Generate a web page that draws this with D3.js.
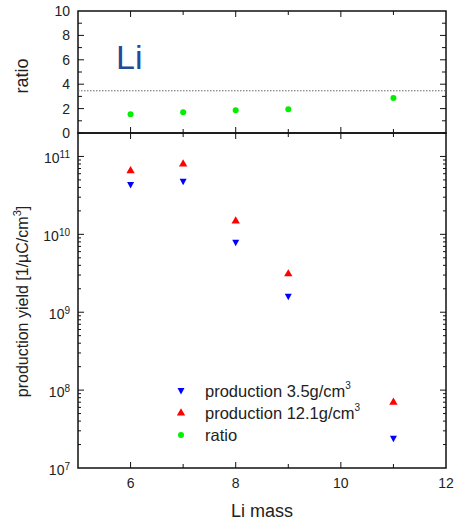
<!DOCTYPE html>
<html>
  <meta charset="utf-8" />
  <head>
    <script src="https://d3js.org/d3.v7.min.js"></script>
    <style>
      body { margin: 0; background: #fff; }
      text { font-family: "Liberation Sans", Arial, sans-serif; fill: #222; }
    </style>
  </head>
  <body>
    <svg id="chart" width="456" height="525"></svg>
    <script>
      // Li isotope masses
      const masses = [6, 7, 8, 9, 11];
      // production yield per density
      const yield35 = [4.3e10, 4.75e10, 7.8e9, 1.58e9, 2.38e7];
      const yield121 = [6.55e10, 8.0e10, 1.48e10, 3.1e9, 6.97e7];
      const ratio = [1.53, 1.70, 1.86, 1.94, 2.87];
      const ratioLine = 3.46;
      const xTicks = [6, 8, 10, 12];
      const ratioTicks = [0, 2, 4, 6, 8, 10];
      const logTicks = [7, 8, 9, 10, 11];
      const legendLabels = ["production 3.5g/cm", "production 12.1g/cm", "ratio"];
      const legendSup = ["3", "3", ""];

      const left = 78, right = 446;
      const topY = 11, midY = 133, botY = 468;
      const green = "#00f000";

      const svg = d3.select("#chart");

      const x = d3.scaleLinear().domain([5, 12]).range([left, right]);
      const yr = d3.scaleLinear().domain([0, 10]).range([midY, topY]);
      const yl = d3.scaleLog().domain([1e7, 2e11]).range([botY, midY]);

      // frames
      svg.append("rect").attr("x", left).attr("y", topY)
        .attr("width", right - left).attr("height", midY - topY)
        .attr("fill", "none").attr("stroke", "#111").attr("stroke-width", 1.5);
      svg.append("rect").attr("x", left).attr("y", midY)
        .attr("width", right - left).attr("height", botY - midY)
        .attr("fill", "none").attr("stroke", "#111").attr("stroke-width", 1.5);

      function tickLine(x1, y1, x2, y2) {
        svg.append("line").attr("x1", x1).attr("y1", y1).attr("x2", x2).attr("y2", y2)
          .attr("stroke", "#111").attr("stroke-width", 1);
      }

      // x ticks (inward) on all horizontal edges
      d3.range(6, 12).forEach(v => {
        const len = v % 2 === 0 ? 6 : 4;
        tickLine(x(v), topY, x(v), topY + len);
        tickLine(x(v), midY, x(v), midY - len);
        tickLine(x(v), midY, x(v), midY + len);
        tickLine(x(v), botY, x(v), botY - len);
      });

      // ratio y ticks
      d3.range(1, 10).forEach(v => {
        const len = v % 2 === 0 ? 6 : 4;
        tickLine(left, yr(v), left + len, yr(v));
        tickLine(right, yr(v), right - len, yr(v));
      });

      // log y ticks
      logTicks.forEach(p => {
        if (p > 7) {
          tickLine(left, yl(Math.pow(10, p)), left + 6, yl(Math.pow(10, p)));
          tickLine(right, yl(Math.pow(10, p)), right - 6, yl(Math.pow(10, p)));
        }
        d3.range(2, 10).forEach(m => {
          const v = m * Math.pow(10, p);
          if (v > 2e11) return;
          tickLine(left, yl(v), left + 3, yl(v));
          tickLine(right, yl(v), right - 3, yl(v));
        });
      });

      // tick labels
      xTicks.forEach(v => {
        svg.append("text").attr("x", x(v)).attr("y", botY + 20)
          .attr("text-anchor", "middle").attr("font-size", 14).text(v);
      });
      ratioTicks.forEach(v => {
        svg.append("text").attr("x", left - 8).attr("y", yr(v) + 5)
          .attr("text-anchor", "end").attr("font-size", 14).text(v);
      });
      logTicks.forEach(p => {
        const t = svg.append("text").attr("x", left - 8).attr("y", yl(Math.pow(10, p)) + 7)
          .attr("text-anchor", "end").attr("font-size", 14);
        t.append("tspan").text("10");
        t.append("tspan").attr("font-size", 10).attr("dy", -5).text(p);
      });

      // axis titles
      svg.append("text").attr("x", x(8.5)).attr("y", 517)
        .attr("text-anchor", "middle").attr("font-size", 18).text("Li mass");
      svg.append("text").attr("transform", "translate(28, 76) rotate(-90)")
        .attr("text-anchor", "middle").attr("font-size", 18).text("ratio");
      const yt = svg.append("text").attr("transform", `translate(28, ${(midY + botY) / 2 + 1}) rotate(-90)`)
        .attr("text-anchor", "middle").attr("font-size", 16);
      yt.append("tspan").text("production yield [1/\u00b5C/cm");
      yt.append("tspan").attr("font-size", 11).attr("dy", -7).text("3");
      yt.append("tspan").attr("dy", 7).text("]");

      // Li label
      svg.append("text").attr("x", 116).attr("y", 69).attr("font-size", 34)
        .style("fill", "#23499c").text("Li");

      // dotted reference line
      svg.append("line").attr("x1", left).attr("x2", right)
        .attr("y1", yr(ratioLine)).attr("y2", yr(ratioLine))
        .attr("stroke", "#666").attr("stroke-width", 1).attr("stroke-dasharray", "1.5,1.5");

      const triUp = d3.symbol().type(d3.symbolTriangle).size(30);
      const triDown = "M-3.5,-3 L3.5,-3 L0,3.5 Z";

      // ratio points
      svg.selectAll(".ratio").data(masses).join("circle")
        .attr("cx", d => x(d)).attr("cy", (d, i) => yr(ratio[i]))
        .attr("r", 3).attr("fill", green);

      svg.selectAll(".y35").data(masses).join("path")
        .attr("transform", (d, i) => `translate(${x(d)},${yl(yield35[i])})`)
        .attr("d", triDown).attr("fill", "#0000ff");
      svg.selectAll(".y121").data(masses).join("path")
        .attr("transform", (d, i) => `translate(${x(d)},${yl(yield121[i])})`)
        .attr("d", triUp).attr("fill", "#ff0000");

      // legend
      const lg = [
        { d: triDown, c: "#0000ff", shape: "path" },
        { d: triUp(), c: "#ff0000", shape: "path" },
        { c: green, shape: "circle" }
      ];
      lg.forEach((l, i) => {
        const ly = 391 + i * 22;
        if (l.shape === "path") {
          svg.append("path").attr("transform", `translate(181,${ly})`)
            .attr("d", l.d).attr("fill", l.c);
        } else {
          svg.append("circle").attr("cx", 181).attr("cy", ly).attr("r", 3).attr("fill", l.c);
        }
        const t = svg.append("text").attr("x", 205).attr("y", ly + 6).attr("font-size", 16.5);
        t.append("tspan").text(legendLabels[i]);
        if (legendSup[i]) t.append("tspan").attr("font-size", 10).attr("dy", -8).text(legendSup[i]);
      });
    </script>
  </body>
</html>
